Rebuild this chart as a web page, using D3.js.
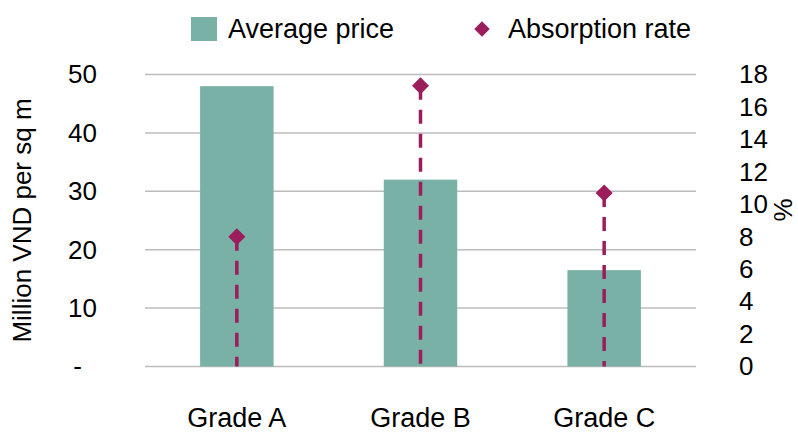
<!DOCTYPE html>
<html>
<head>
<meta charset="utf-8">
<script src="https://cdn.jsdelivr.net/npm/d3@7"></script>
<style>
  body { margin: 0; background: #fff; }
  svg { display: block; font-family: "Liberation Sans", Arial, sans-serif; }
</style>
</head>
<body>
<svg id="chart"></svg>
<script>
const categories = ["Grade A", "Grade B", "Grade C"];
const avgPrice = [48, 32, 16.5];
const absorption = [8.0, 17.3, 10.7];
const leftTicks = [0, 10, 20, 30, 40, 50];
const rightTicks = [0, 2, 4, 6, 8, 10, 12, 14, 16, 18];

const width = 798, height = 434;
const margin = { top: 74.5, right: 102, bottom: 67.5, left: 145 };
const chartWidth = width - margin.left - margin.right;
const chartHeight = height - margin.top - margin.bottom;

const barColor = "#7ab1a7";
const dotColor = "#9c1d5c";
const gridColor = "#bcbcbc";
const tickFont = 26;
const labelFont = 27;

const svg = d3.select("#chart").attr("width", width).attr("height", height);

const x = d3.scaleBand()
    .domain(categories)
    .range([0, chartWidth])
    .paddingInner(0.6)
    .paddingOuter(0.3);

const yLeft = d3.scaleLinear().domain([0, 50]).range([chartHeight, 0]);
const yRight = d3.scaleLinear().domain([0, 18]).range([chartHeight, 0]);

const g = svg.append("g")
    .attr("transform", `translate(${margin.left},${margin.top})`);

// gridlines
g.append("g")
    .selectAll("line")
    .data(leftTicks)
    .join("line")
    .attr("x1", 0)
    .attr("x2", chartWidth)
    .attr("y1", d => yLeft(d))
    .attr("y2", d => yLeft(d))
    .attr("stroke", gridColor)
    .attr("stroke-width", 1.5);

// bars
g.selectAll("rect.bar")
    .data(avgPrice)
    .join("rect")
    .attr("class", "bar")
    .attr("x", (_, i) => x(categories[i]))
    .attr("y", d => yLeft(d))
    .attr("width", x.bandwidth())
    .attr("height", d => chartHeight - yLeft(d))
    .attr("fill", barColor);

// dashed drop lines
g.selectAll("line.drop")
    .data(absorption)
    .join("line")
    .attr("class", "drop")
    .attr("x1", (_, i) => x(categories[i]) + x.bandwidth() / 2)
    .attr("x2", (_, i) => x(categories[i]) + x.bandwidth() / 2)
    .attr("y1", d => yRight(d))
    .attr("y2", chartHeight)
    .attr("stroke", dotColor)
    .attr("stroke-width", 3.5)
    .attr("stroke-dasharray", "14,10");

// diamonds
const diamond = d3.symbol().type(d3.symbolSquare).size(145);
g.selectAll("path.dot")
    .data(absorption)
    .join("path")
    .attr("class", "dot")
    .attr("d", diamond)
    .attr("transform", (d, i) =>
        `translate(${x(categories[i]) + x.bandwidth() / 2},${yRight(d)}) rotate(45)`)
    .attr("fill", dotColor);

// left axis
const leftAxis = g.append("g")
    .call(d3.axisLeft(yLeft).tickValues(leftTicks).tickSize(0).tickPadding(48)
        .tickFormat(d => d === 0 ? "-" : d));
leftAxis.select(".domain").remove();
leftAxis.selectAll("text")
    .attr("font-size", tickFont)
    .attr("font-family", "Liberation Sans, Arial, sans-serif")
    .attr("fill", "#000")
    .attr("dx", d => d === 0 ? -15 : 0);

// right axis
const rightAxis = g.append("g")
    .attr("transform", `translate(${chartWidth},0)`)
    .call(d3.axisRight(yRight).tickValues(rightTicks).tickSize(0).tickPadding(43));
rightAxis.select(".domain").remove();
rightAxis.selectAll("text")
    .attr("font-size", tickFont)
    .attr("font-family", "Liberation Sans, Arial, sans-serif")
    .attr("fill", "#000");

// category axis
const bottomAxis = g.append("g")
    .attr("transform", `translate(0,${chartHeight})`)
    .call(d3.axisBottom(x).tickSize(0).tickPadding(41));
bottomAxis.select(".domain").remove();
bottomAxis.selectAll("text")
    .attr("font-size", labelFont)
    .attr("font-family", "Liberation Sans, Arial, sans-serif")
    .attr("fill", "#000");

// axis titles
svg.append("text")
    .attr("transform", `translate(31,${margin.top + chartHeight / 2}) rotate(-90)`)
    .attr("text-anchor", "middle")
    .attr("font-size", tickFont)
    .text("Million VND per sq m");

svg.append("text")
    .attr("transform", `translate(792,210) rotate(-90)`)
    .attr("text-anchor", "middle")
    .attr("font-size", tickFont)
    .text("%");

// legend
const legend = svg.append("g");
legend.append("rect")
    .attr("x", 191).attr("y", 17)
    .attr("width", 26).attr("height", 24)
    .attr("fill", barColor);
legend.append("text")
    .attr("x", 228).attr("y", 38)
    .attr("font-size", labelFont)
    .text("Average price");
legend.append("path")
    .attr("d", d3.symbol().type(d3.symbolSquare).size(120))
    .attr("transform", "translate(482,29) rotate(45)")
    .attr("fill", dotColor);
legend.append("text")
    .attr("x", 508).attr("y", 38)
    .attr("font-size", labelFont)
    .text("Absorption rate");
</script>
</body>
</html>
